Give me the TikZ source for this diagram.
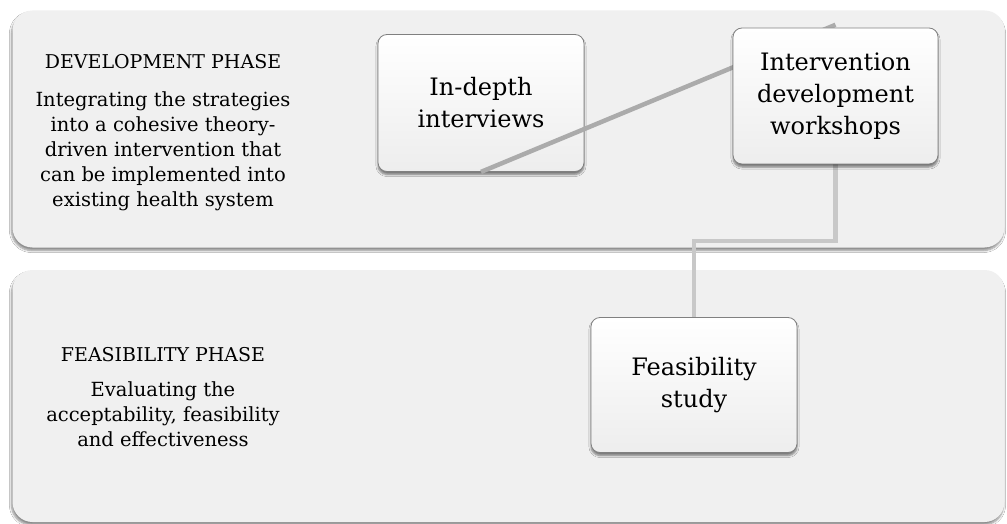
\documentclass[tikz,border=0pt]{standalone}
\usepackage{fontspec}
\setmainfont{DejaVu Serif}
\usetikzlibrary{shadows,shadows.blur}
\definecolor{bandfill}{HTML}{F0F0F0}
\definecolor{boxedge}{HTML}{808080}
\definecolor{linkdark}{HTML}{ABABAB}
\definecolor{linklight}{HTML}{C8C8C8}
\tikzset{
  band/.style={fill=bandfill, rounded corners=20pt, draw=none, inner sep=0pt,
    blur shadow={shadow xshift=-1pt, shadow yshift=-3pt, shadow blur steps=6, shadow opacity=45}},
  stepbox/.style={rounded corners=9pt, draw=boxedge, line width=0.8pt,
    top color=white, bottom color=black!7, align=center, inner sep=0pt,
    minimum width=206pt, minimum height=136pt,
    font=\fontsize{24}{32}\selectfont,
    blur shadow={shadow xshift=0pt, shadow yshift=-3pt, shadow blur steps=5, shadow opacity=50}},
  phasetext/.style={align=center, font=\fontsize{19.5}{25}\selectfont},
  phasehead/.style={font=\fontsize{19}{22}\selectfont},
  linkd/.style={draw=linkdark, line width=4.5pt},
  linkl/.style={draw=linklight, line width=4.5pt},
}
\begin{document}
\begin{tikzpicture}[x=1pt,y=-1pt]
\useasboundingbox (0,0) rectangle (1007,524);
\fill[white] (0,0) rectangle (1007,524);
% phase bands
\node[band, minimum width=992pt, minimum height=237pt] (dev) at (508.5,129) {};
\node[band, minimum width=992pt, minimum height=252pt] (fea) at (508.5,396) {};
% band captions
\node[phasehead] (devh) at (163,62) {DEVELOPMENT PHASE};
\node[phasetext, anchor=north] (devt) at (163,88) {Integrating the strategies\\into a cohesive theory-\\driven intervention that\\can be implemented into\\existing health system};
\node[phasehead] (feah) at (163,355) {FEASIBILITY PHASE};
\node[phasetext, anchor=north] (feat) at (163,378) {Evaluating the\\acceptability, feasibility\\and effectiveness};
% step boxes, connectors layered between them
\node[stepbox, minimum height=137pt] (idi) at (481,103) {In-depth\\interviews};
\node[stepbox, minimum height=135pt] (fs) at (694,385) {Feasibility\\study};
\path (835.5,96) node[minimum width=205pt, minimum height=136pt, inner sep=0pt] (iwframe) {};
\coordinate (iwtop) at ([yshift=3pt]iwframe.north);
\draw[linkd] (idi.south) -- (iwtop);
\draw[linkl] (iwframe.south) -- ++(0,77) -| (fs.north);
\node[stepbox, minimum width=205pt] (iw) at (iwframe.center) {Intervention\\development\\workshops};
\end{tikzpicture}
\end{document}
